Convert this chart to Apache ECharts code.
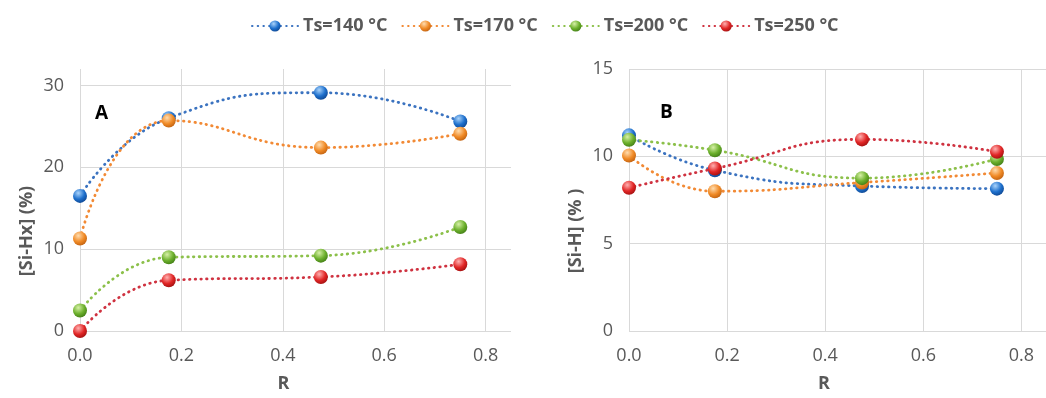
<!DOCTYPE html>
<html>
<head>
<meta charset="utf-8">
<script src="https://cdn.jsdelivr.net/npm/echarts@6/dist/echarts.min.js"></script>
<style>
html,body{margin:0;padding:0;background:#fff;}
#chart{width:1046px;height:398px;}
</style>
</head>
<body>
<div id="chart"></div>
<script>
// ---- data ----
const xValues = [0, 0.175, 0.475, 0.75];
const seriesNames = ['Ts=140 °C', 'Ts=170 °C', 'Ts=200 °C', 'Ts=250 °C'];
// Panel A: [Si-Hx] (%)
const siHx140 = [16.5, 26.0, 29.1, 25.6];
const siHx170 = [11.3, 25.7, 22.4, 24.1];
const siHx200 = [2.5, 9.0, 9.2, 12.7];
const siHx250 = [0.0, 6.2, 6.6, 8.15];
// Panel B: [Si-H] (%)
const siH140 = [11.2, 9.2, 8.3, 8.15];
const siH170 = [10.05, 8.0, 8.5, 9.05];
const siH200 = [10.95, 10.35, 8.75, 9.85];
const siH250 = [8.2, 9.3, 10.97, 10.26];

// ---- styles ----
const lineColors = ['#3b73c0', '#f28a35', '#8cc04a', '#cf3240'];
const sphere = [
  ['#a9d3fb', '#1d6fcc', '#0c3f86'],
  ['#ffdcae', '#f08a26', '#b85a0c'],
  ['#d6f0a6', '#6cb02c', '#3a7412'],
  ['#ffb0b0', '#e12626', '#960c0c']
];
function grad(c) {
  return {type: 'radial', x: 0.38, y: 0.3, r: 0.8,
    colorStops: [{offset: 0, color: c[0]}, {offset: 0.55, color: c[1]}, {offset: 1, color: c[2]}]};
}
const dataA = [siHx140, siHx170, siHx200, siHx250];
const dataB = [siH140, siH170, siH200, siH250];

function mkSeries(arrs, idx) {
  return arrs.map((arr, i) => ({
    name: seriesNames[i],
    type: 'line',
    xAxisIndex: idx, yAxisIndex: idx,
    smooth: 0.5,
    symbol: 'circle',
    symbolSize: 14,
    data: arr.map((v, k) => [xValues[k], v]),
    lineStyle: {color: lineColors[i], width: 2.8, type: [0.5, 5.2], cap: 'round'},
    itemStyle: {color: grad(sphere[i]), borderWidth: 0},
    emphasis: {disabled: true},
    z: 2 + i
  }));
}

const font = 'Open Sans';
const tickColor = '#595959';
const gridColor = '#d9d9d9';

function xAxis(gi, pad) {
  return {
    type: 'value', gridIndex: gi, min: 0, max: 0.85, interval: 0.2,
    axisLine: {show: false}, axisTick: {show: false},
    splitLine: {show: true, showMaxLine: false, lineStyle: {color: gridColor, width: 1}},
    axisLabel: {color: tickColor, fontFamily: font, fontSize: 18, margin: 16, showMaxLabel: false,
      formatter: v => v.toFixed(1)},
    name: 'R', nameLocation: 'middle', nameGap: 44,
    nameTextStyle: {color: tickColor, fontFamily: font, fontWeight: 'bold', fontSize: 18, padding: pad}
  };
}
function yAxis(gi, max, interval, name, gap, pad) {
  return {
    type: 'value', gridIndex: gi, min: 0, max: max, interval: interval,
    axisLine: {show: false}, axisTick: {show: false},
    splitLine: {show: true, showMaxLine: max % interval === 0, lineStyle: {color: gridColor, width: 1}},
    axisLabel: {color: tickColor, fontFamily: font, fontSize: 18, margin: 16, showMaxLabel: max % interval === 0},
    name: name, nameLocation: 'middle', nameGap: gap,
    nameTextStyle: {color: tickColor, fontFamily: font, fontWeight: 'bold', fontSize: 18, padding: pad}
  };
}

const chart = echarts.init(document.getElementById('chart'), null, {renderer: 'canvas'});
chart.setOption({
  animation: false,
  backgroundColor: '#ffffff',
  legend: {
    data: seriesNames,
    left: 246, top: 12,
    itemWidth: 46, itemHeight: 14, itemGap: 14,
    textStyle: {color: tickColor, fontFamily: font, fontWeight: 'bold', fontSize: 18}
  },
  grid: [
    {left: 80, top: 69, width: 431, height: 267, containLabel: false},
    {left: 629, top: 69, width: 427, height: 267, containLabel: false}
  ],
  xAxis: [xAxis(0, [0, 24, 0, 0]), xAxis(1, [0, 27, 0, 0])],
  yAxis: [
    yAxis(0, 32, 10, '[Si-Hx] (%)', 44, [0, 62, 0, 0]),
    yAxis(1, 15, 5, '[Si-H] (% )', 44, [0, 62, 0, 0])
  ],
  graphic: [
    {type: 'text', left: 95, top: 104, style: {text: 'A', font: 'bold 19px "Open Sans"', fill: '#000'}},
    {type: 'text', left: 660, top: 103, style: {text: 'B', font: 'bold 19px "Open Sans"', fill: '#000'}}
  ],
  series: mkSeries(dataA, 0).concat(mkSeries(dataB, 1))
});
</script>
</body>
</html>
